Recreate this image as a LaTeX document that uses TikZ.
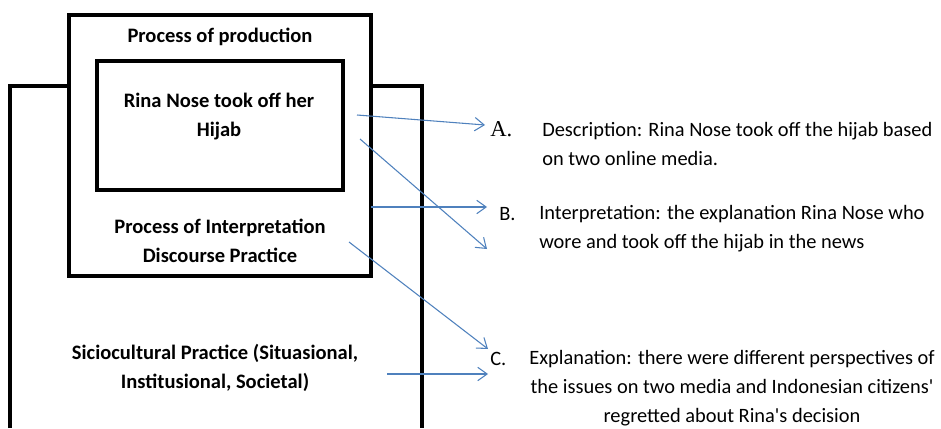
\documentclass[tikz,border=0pt]{standalone}
\usepackage{fontspec}
\setmainfont{Carlito}
\newfontfamily\serifletter{Liberation Serif}
\usetikzlibrary{arrows.meta}
\definecolor{linkblue}{RGB}{79, 129, 189}

\begin{document}
\begin{tikzpicture}[x=0.75pt, y=-0.75pt,
        frame/.style={draw, line width=2.3pt, line join=miter},
        head/.style={font=\fontsize{15.4}{21.75}\selectfont\bfseries, align=center, anchor=base, inner sep=0pt},
        letter/.style={font=\fontsize{15.3}{21.75}\selectfont, anchor=base west, inner sep=0pt},
        body/.style={font=\fontsize{15.3}{21.75}\selectfont, align=left, anchor=base west, inner sep=0pt},
        arrow/.style={-{Straight Barb[length=7pt, width=10pt]}, line width=0.8pt, linkblue}
    ]
        \useasboundingbox (0,0) rectangle (941,428);
        % boxes
        \draw[frame] (10,428) -- (10,86) -- (422,86) -- (422,428);
        \draw[frame, fill=white] (69,15) rectangle (371,276);
        \draw[frame] (97,61) rectangle (343,190);
        % texts in the boxes (base = last line)
        \node[head] (production) at (220,43) {Process of production};
        \node[head] (hijab) at (219,136) {Rina Nose took off her\\Hijab};
        \node[head] (interpretation) at (220,262) {Process of Interpretation\\Discourse Practice};
        \node[head] (sociocultural) at (215,388) {Siciocultural Practice (Situasional,\\Institusional, Societal)};
        % texts on the right
        \node[letter] (labelA) at (490,136) {\serifletter\fontsize{17}{21.75}\selectfont A.};
        \node[body] (description) at (542,165) {Description: Rina Nose took off the hijab based\\on two online media.};
        \node[letter] (labelB) at (499,220) {B.};
        \node[body] (explB) at (539,248) {Interpretation: the explanation Rina Nose who\\wore and took off the hijab in the news};
        \node[letter] (labelC) at (490,365) {C.};
        \node[body, align=center, anchor=base] (explanation) at (732,422) {Explanation: there were different perspectives of\\the issues on two media and Indonesian citizens\textquotesingle\\regretted about Rina\textquotesingle s decision};
        % arrows
        \coordinate (fromA) at (357,115);
        \coordinate (toA) at (485,125);
        \coordinate (fromHijab) at (360,139);
        \coordinate (toHijab) at (487,249);
        \coordinate (fromB) at (371,207);
        \coordinate (toB) at (487,207);
        \coordinate (fromInterp) at (349,242);
        \coordinate (toInterp) at (488,349);
        \coordinate (fromC) at (387,374);
        \coordinate (toC) at (488,374);
        \draw[arrow] (fromA) -- (toA);
        \draw[arrow] (fromHijab) -- (toHijab);
        \draw[arrow] (fromB) -- (toB);
        \draw[arrow] (fromInterp) -- (toInterp);
        \draw[arrow] (fromC) -- (toC);
    \end{tikzpicture}
\end{document}
